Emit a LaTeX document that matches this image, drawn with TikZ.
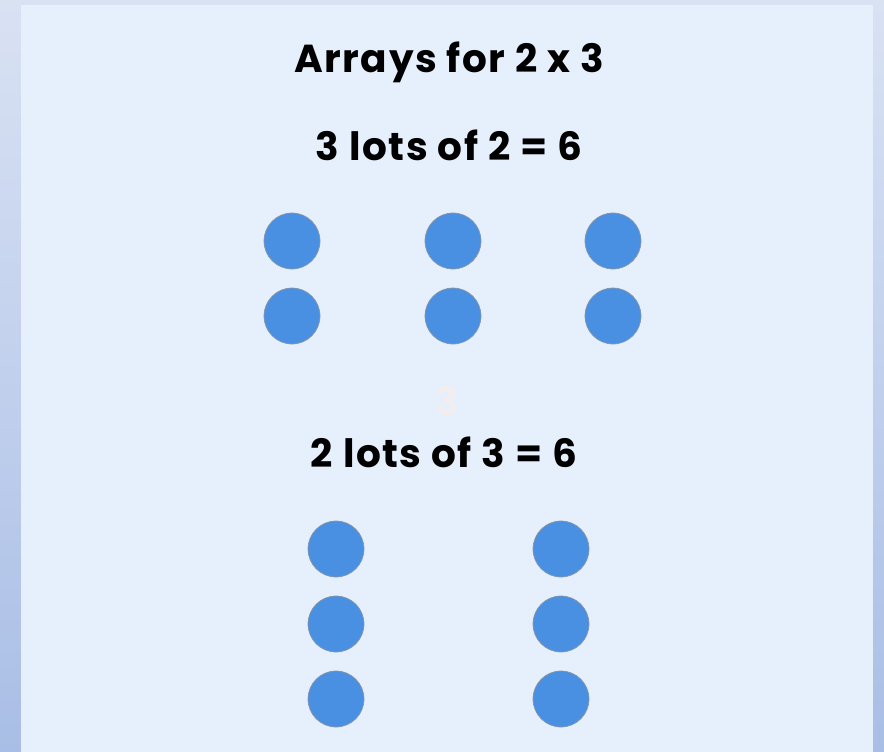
\documentclass[tikz,border=0pt]{standalone}
\usepackage{fontspec}
\setmainfont{Poppins}
\newfontfamily\headfont[LetterSpace=4]{Poppins}
\usetikzlibrary{positioning}

\definecolor{edgetop}{HTML}{D9E2F3}
\definecolor{edgebottom}{HTML}{A9BEE6}
\definecolor{panelblue}{HTML}{E6F0FD}
\definecolor{dotblue}{HTML}{4A90E2}
\definecolor{dotrim}{HTML}{8A96A6}
\definecolor{ghost}{HTML}{F2EEF0}

\begin{document}
\begin{tikzpicture}[
  x=1pt, y=-1pt,
  heading/.style={anchor=base, font=\headfont\fontsize{39}{43}\selectfont\bfseries, text=black},
  dot/.style={circle, fill=dotblue, draw=dotrim, line width=0.7pt, minimum size=56pt, inner sep=0pt}
]
  % outer frame and panel
  \shade[top color=edgetop, bottom color=edgebottom] (0,0) rectangle (884,752);
  \fill[panelblue] (21,5) rectangle (873,752);
  \useasboundingbox (0,0) rectangle (884,752);

  \node[heading] (title) at (449,73) {Arrays for 2 x 3};
  \node[heading] (lotsA) at (449,160) {3 lots of 2 = 6};

  % 3 columns of 2
  \node[dot] (a11) at (292,241) {};
  \node[dot] (a21) at (292,316) {};
  \node[dot] (a12) at (453,241) {};
  \node[dot] (a22) at (453,316) {};
  \node[dot] (a13) at (613,241) {};
  \node[dot] (a23) at (613,316) {};

  \node[heading, text=ghost] (ghostnum) at (447,415) {3};
  \node[heading] (lotsB) at (444,467) {2 lots of 3 = 6};

  % 2 columns of 3
  \node[dot] (b11) at (336,549) {};
  \node[dot] (b21) at (336,624) {};
  \node[dot] (b31) at (336,699) {};
  \node[dot] (b12) at (561,549) {};
  \node[dot] (b22) at (561,624) {};
  \node[dot] (b32) at (561,699) {};
\end{tikzpicture}
\end{document}
